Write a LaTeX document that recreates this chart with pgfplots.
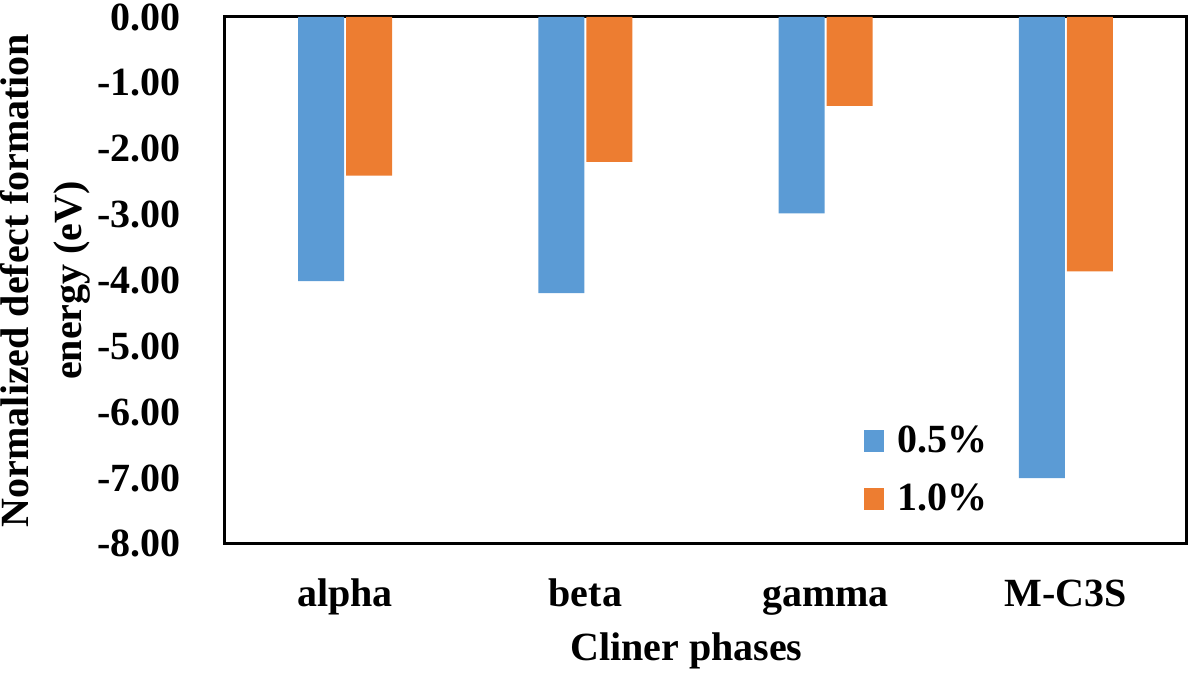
\documentclass[border=0pt]{standalone}
\usepackage{fontspec}
\setmainfont{Liberation Serif}
\usepackage{pgfplots}
\pgfplotsset{compat=1.18}

\definecolor{xlblue}{RGB}{91,155,213}
\definecolor{xlorange}{RGB}{237,125,49}

\begin{document}
\begin{tikzpicture}
  \begin{axis}[
    name=ax,
    scale only axis,
    width=480.5pt,
    height=263.5pt,
    ybar=1pt,
    bar width=23pt,
    xmin=-0.5, xmax=3.5,
    ymin=-8, ymax=0,
    xtick={0,1,2,3},
    xticklabels={alpha,beta,gamma,M-C3S},
    ytick={-8,-7,...,0},
    major tick length=0pt,
    axis line style={line width=1.5pt},
    font=\fontsize{20}{24}\bfseries,
    /pgf/number format/assume math mode=true,
    yticklabel={\pgfmathprintnumber[fixed,fixed zerofill,precision=2]{\tick}},
    yticklabel style={anchor=east,inner sep=0pt,xshift=-22pt},
    xticklabel style={anchor=north,inner sep=0pt,yshift=-17pt,
      text height=14pt,text depth=4.5pt},
    xlabel={Cliner phases},
    xlabel style={at={(axis description cs:0.48,0)},anchor=north,inner sep=0pt,yshift=-44pt},
    ylabel={Normalized defect formation\\energy (eV)},
    ylabel style={at={(axis description cs:-0.1872,0.5)},anchor=center,align=center,
      font=\fontsize{20}{26.5}\bfseries},
    legend style={at={(axis description cs:0.664,0.232)},anchor=north west,
      draw=none,fill=none,row sep=10pt,column sep=5pt,inner sep=0pt,
      font=\fontsize{20}{24}\bfseries,
      cells={anchor=west}},
    legend image code/.code={\fill[#1] (0pt,-5.5pt) rectangle (10pt,5.5pt);},
    ]
    % 0.5 %
    \addplot[draw=none,fill=xlblue] coordinates {
      (0,-4.01) (1,-4.19) (2,-2.98) (3,-7.00)
    };
    % 1.0 %
    \addplot[draw=none,fill=xlorange] coordinates {
      (0,-2.41) (1,-2.20) (2,-1.35) (3,-3.86)
    };
    \addlegendentry{0.5\%}
    \addlegendentry{1.0\%}
  \end{axis}
  \pgfresetboundingbox
  \path[use as bounding box] (ax.south west) ++(-112.5pt,-65pt) rectangle ([shift={(2pt,8.5pt)}]ax.north east);
\end{tikzpicture}
\end{document}
